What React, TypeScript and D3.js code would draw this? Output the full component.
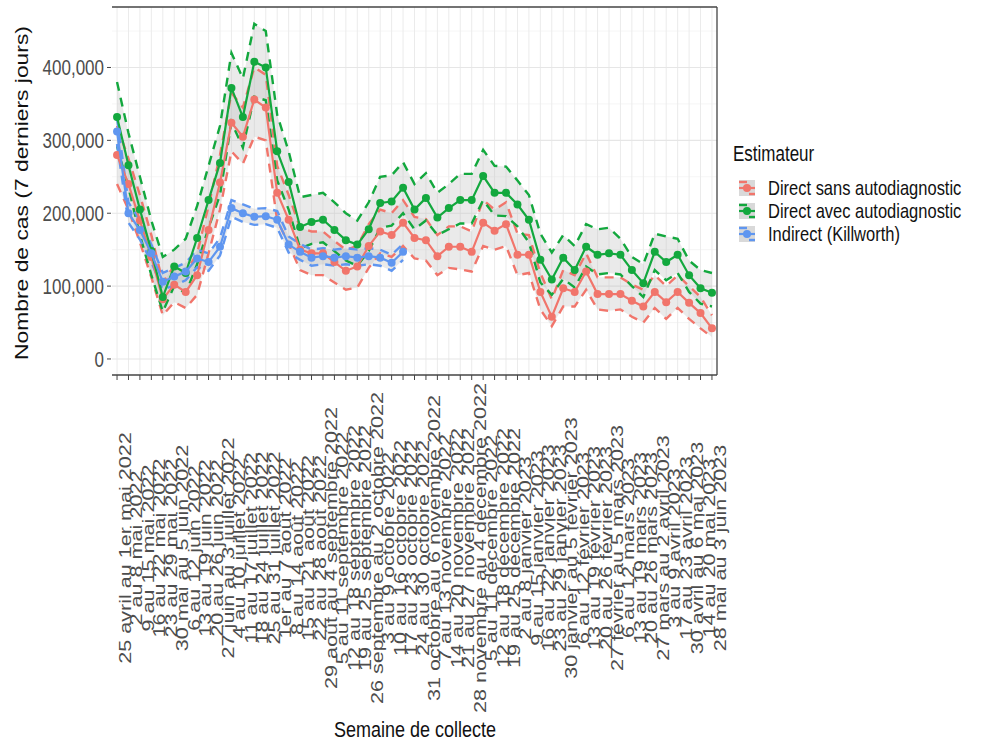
import * as d3 from 'd3';

// weekly collection periods (x axis)
const weeks = [
  '25 avril au 1er mai 2022', '2 au 8 mai 2022', '9 au 15 mai 2022', '16 au 22 mai 2022',
  '23 au 29 mai 2022', '30 mai au 5 juin 2022', '6 au 12 juin 2022', '13 au 19 juin 2022',
  '20 au 26 juin 2022', '27 juin au 3 juillet 2022', '4 au 10 juillet 2022', '11 au 17 juillet 2022',
  '18 au 24 juillet 2022', '25 au 31 juillet 2022', '1er au 7 août 2022', '8 au 14 août 2022',
  '15 au 21 août 2022', '22 au 28 août 2022', '29 août au 4 septembre 2022', '5 au 11 septembre 2022',
  '12 au 18 septembre 2022', '19 au 25 septembre 2022', '26 septembre au 2 octobre 2022', '3 au 9 octobre 2022',
  '10 au 16 octobre 2022', '17 au 23 octobre 2022', '24 au 30 octobre 2022', '31 octobre au 6 novembre 2022',
  '7 au 13 novembre 2022', '14 au 20 novembre 2022', '21 au 27 novembre 2022', '28 novembre au 4 décembre 2022',
  '5 au 11 décembre 2022', '12 au 18 décembre 2022', '19 au 25 décembre 2022', '2 au 8 janvier 2023',
  '9 au 15 janvier 2023', '16 au 22 janvier 2023', '23 au 29 janvier 2023', '30 janvier au 5 février 2023',
  '6 au 12 février 2023', '13 au 19 février 2023', '20 au 26 février 2023', '27 février au 5 mars 2023',
  '6 au 12 mars 2023', '13 au 19 mars 2023', '20 au 26 mars 2023', '27 mars au 2 avril 2023',
  '3 au 9 avril 2023', '17 au 23 avril 2023', '30 avril au 6 mai 2023', '14 au 20 mai 2023',
  '28 mai au 3 juin 2023',
];

// values in thousands of cases
const sansAuto = [
  280, 240, 190, 140, 82, 102, 92, 115, 177, 242, 324, 305, 356, 345, 228, 191, 150, 145, 145, 133,
  121, 127, 155, 175, 170, 187, 166, 163, 141, 154, 154, 147, 187, 176, 185, 143, 143, 92, 58, 97,
  92, 120, 89, 89, 89, 80, 72, 92, 78, 92, 77, 63, 42,
];
const sansAutoLow = [
  240, 205, 160, 112, 60, 78, 70, 88, 145, 205, 285, 268, 305, 300, 190, 158, 122, 115, 115, 105,
  95, 98, 125, 145, 140, 155, 138, 135, 115, 125, 123, 120, 155, 150, 155, 115, 118, 68, 45, 72,
  72, 95, 68, 66, 68, 58, 50, 70, 55, 70, 55, 42, 30,
];
const sansAutoHigh = [
  320, 275, 225, 170, 105, 128, 118, 145, 210, 280, 365, 345, 400, 390, 265, 225, 180, 175, 175, 162,
  150, 155, 185, 205, 200, 218, 195, 192, 170, 182, 182, 175, 218, 205, 215, 172, 170, 118, 82, 122,
  115, 145, 112, 112, 112, 102, 95, 115, 100, 115, 100, 85, 60,
];

const avecAuto = [
  332, 266, 205, 148, 85, 127, 118, 166, 218, 269, 372, 332, 408, 400, 285, 243, 181, 188, 191, 177,
  163, 157, 178, 214, 216, 235, 205, 221, 194, 207, 218, 218, 251, 228, 228, 212, 191, 136, 109, 139,
  122, 154, 143, 145, 143, 122, 104, 147, 133, 143, 115, 97, 91,
];
const avecAutoLow = [
  292, 235, 170, 115, 65, 100, 90, 130, 180, 225, 325, 290, 360, 355, 245, 205, 152, 158, 160, 148,
  135, 128, 148, 180, 183, 200, 178, 190, 170, 178, 186, 186, 218, 197, 196, 182, 160, 105, 88, 110,
  98, 127, 116, 118, 116, 100, 85, 122, 108, 118, 92, 76, 72,
];
const avecAutoHigh = [
  380, 310, 250, 190, 140, 150, 165, 210, 265, 320, 420, 385, 460, 450, 335, 285, 222, 225, 228, 215,
  200, 190, 215, 250, 252, 270, 240, 255, 228, 240, 254, 254, 287, 265, 264, 245, 225, 172, 146, 170,
  155, 185, 178, 180, 165, 140, 130, 172, 168, 165, 135, 122, 118,
];

const indirect = [
  312, 200, 177, 145, 106, 113, 120, 138, 133, 154, 207, 200, 195, 196, 191, 157, 147, 139, 141, 139,
  141, 139, 141, 139, 132, 147,
];
const indirectLow = [
  295, 187, 164, 133, 95, 101, 108, 126, 121, 142, 195, 188, 184, 185, 180, 146, 136, 128, 130, 128,
  130, 128, 130, 128, 121, 136,
];
const indirectHigh = [
  330, 215, 190, 157, 118, 125, 132, 150, 145, 166, 218, 212, 206, 207, 203, 168, 158, 150, 152, 150,
  152, 150, 152, 150, 143, 158,
];

const yTicks = [0, 100, 200, 300, 400];
const yMinor = [50, 150, 250, 350, 450];

const FONT = '"Liberation Sans", Arial, sans-serif';
// the picture is stretched vertically: text is drawn taller than wide
const STRETCH = 1.27;

export default function App() {
  const width = 1007;
  const height = 741;
  const left = 112, right = 717, top = 7, bottom = 375;

  const x = d3.scalePoint<string>().domain(weeks).range([left, right]).padding(0.44);
  const y = d3.scaleLinear().domain([-22, 483]).range([bottom, top]);
  const xi = (i: number) => x(weeks[i]) ?? 0;

  const series = [
    { name: 'Direct sans autodiagnostic', color: '#F1756B', v: sansAuto, lo: sansAutoLow, hi: sansAutoHigh },
    { name: 'Direct avec autodiagnostic', color: '#13A83E', v: avecAuto, lo: avecAutoLow, hi: avecAutoHigh },
    { name: 'Indirect (Killworth)', color: '#5F96F0', v: indirect, lo: indirectLow, hi: indirectHigh },
  ];

  const line = d3.line<number>().x((_, i) => xi(i)).y((d) => y(d));
  const area = (lo: number[], hi: number[]) =>
    d3.area<number>().x((_, i) => xi(i)).y0((_, i) => y(lo[i])).y1((_, i) => y(hi[i]))(lo) ?? '';

  const fmt = (v: number) => d3.format(',')(v * 1000);
  const hText = (tx: number, ty: number) => `translate(${tx},${ty}) scale(1,${STRETCH})`;

  return (
    <svg width={width} height={height} style={{ position: 'absolute', left: 0, top: 0, background: '#fff' }} fontFamily={FONT}>
      {/* grid */}
      {yMinor.map((t) => (
        <line key={'m' + t} x1={left} x2={right} y1={y(t)} y2={y(t)} stroke="#f3f3f3" strokeWidth={0.8} />
      ))}
      {weeks.map((w) => (
        <line key={'v' + w} x1={x(w)} x2={x(w)} y1={top} y2={bottom} stroke="#ebebeb" strokeWidth={1} />
      ))}
      {yTicks.map((t) => (
        <line key={'g' + t} x1={left} x2={right} y1={y(t)} y2={y(t)} stroke="#e6e6e6" strokeWidth={1.1} />
      ))}

      {/* ribbons */}
      {series.map((s) => (
        <path key={'r' + s.name} d={area(s.lo, s.hi)} fill="#b8b8b8" fillOpacity={0.3} />
      ))}
      {/* confidence bounds */}
      {series.map((s) => (
        <g key={'ci' + s.name} fill="none" stroke={s.color} strokeWidth={2.4} strokeDasharray="9,7">
          <path d={line(s.lo) ?? ''} />
          <path d={line(s.hi) ?? ''} />
        </g>
      ))}
      {/* estimates */}
      {series.map((s) => (
        <g key={'l' + s.name}>
          <path d={line(s.v) ?? ''} fill="none" stroke={s.color} strokeWidth={2.2} />
          {s.v.map((d, i) => (
            <circle key={i} cx={xi(i)} cy={y(d)} r={4} fill={s.color} />
          ))}
        </g>
      ))}

      {/* panel border */}
      <line x1={left} x2={right} y1={top} y2={top} stroke="#444" strokeWidth={1.3} />
      <line x1={right} x2={right} y1={top} y2={bottom} stroke="#444" strokeWidth={1.3} />
      <line x1={left} x2={right} y1={bottom} y2={bottom} stroke="#444" strokeWidth={1.3} />

      {/* y axis */}
      {yTicks.map((t) => (
        <g key={'yt' + t}>
          <line x1={left - 5} x2={left - 1} y1={y(t)} y2={y(t)} stroke="#444" />
          <text transform={hText(left - 8, y(t))} dy="0.36em" textAnchor="end" fontSize={17} fill="#4d4d4d">
            {fmt(t)}
          </text>
        </g>
      ))}
      <text transform={`translate(28,193) rotate(-90) scale(${STRETCH},1)`} textAnchor="middle" fontSize={18} fill="#111">
        Nombre de cas (7 derniers jours)
      </text>

      {/* x axis */}
      {weeks.map((w) => (
        <g key={'xt' + w}>
          <line x1={x(w)} x2={x(w)} y1={bottom} y2={bottom + 5} stroke="#444" />
          <text
            transform={`translate(${(x(w) ?? 0) + 14},548) rotate(-90) scale(${STRETCH},1)`}
            textAnchor="middle"
            fontSize={17}
            fill="#4d4d4d"
          >
            {w}
          </text>
        </g>
      ))}
      <text transform={hText(415, 737)} textAnchor="middle" fontSize={18} fill="#111">
        Semaine de collecte
      </text>

      {/* legend */}
      <text transform={hText(733, 161)} fontSize={17} fill="#111">Estimateur</text>
      {series.map((s, i) => {
        const cy = 188 + i * 23;
        return (
          <g key={'lg' + s.name}>
            <rect x={739} y={cy - 8} width={16} height={16} fill="#d9d9d9" />
            <line x1={739} x2={747} y1={cy - 6} y2={cy - 6} stroke={s.color} strokeWidth={2.4} />
            <line x1={749} x2={755} y1={cy + 6} y2={cy + 6} stroke={s.color} strokeWidth={2.4} />
            <line x1={739} x2={755} y1={cy} y2={cy} stroke={s.color} strokeWidth={2.2} />
            <circle cx={747} cy={cy} r={4} fill={s.color} />
            <text transform={hText(768, cy)} dy="0.34em" fontSize={16.5} fill="#111">
              {s.name}
            </text>
          </g>
        );
      })}
    </svg>
  );
}
